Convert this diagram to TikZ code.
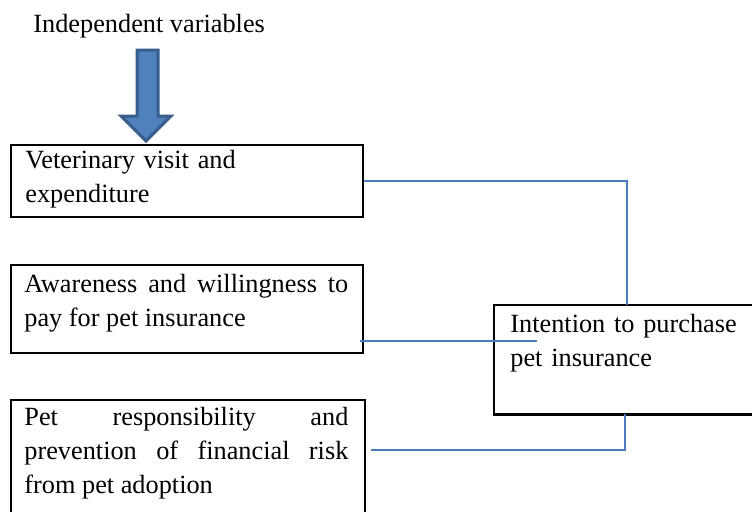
\documentclass[tikz,border=0pt]{standalone}
\usepackage{fontspec}
\setmainfont{Liberation Serif}
\usepackage{xcolor}
\usepackage{tikz}
\usetikzlibrary{positioning,calc}
\definecolor{lienbleu}{HTML}{4A7EBB}
\definecolor{flechebleu}{HTML}{4F81BD}
\definecolor{flechebord}{HTML}{385D8A}

\begin{document}
\begin{tikzpicture}[x=0.5pt,y=-0.5pt,
    font=\fontsize{13.15}{17}\selectfont,
    boite/.style={draw=black,line width=1.2pt,inner sep=0pt,anchor=north west},
    texte/.style={inner sep=0pt,anchor=north west,text width=162pt},
    lien/.style={draw=lienbleu,line width=0.9pt}]
  \useasboundingbox (0,0) rectangle (752,511);
  \clip (0,0) rectangle (752,511);
  % titre et grosse fleche
  \node[inner sep=0pt,anchor=north west] (titre) at (33,14) {Independent variables};
  \draw[fill=flechebleu,draw=flechebord,line width=1.5pt]
    (137,50) -- (158,50) -- (158,116) -- (171,116) -- (146,141) -- (121,116) -- (137,116) -- cycle;
  % les quatre cadres (le dernier est coupe a droite)
  \node[boite,minimum width=176pt,minimum height=36pt] (visite) at (10,144) {};
  \node[boite,minimum width=176pt,minimum height=44pt] (conscience) at (10,264) {};
  \node[boite,minimum width=177pt,minimum height=60.5pt] (respons) at (10,399) {};
  \node[boite,draw=none,minimum width=153pt,minimum height=53.5pt] (intention) at (494,305) {};
  \draw[line width=1.2pt] (intention.north east) -- (intention.north west)
    -- (intention.south west) -- (intention.south east);
  \node[texte,align=left] (tvisite) at ([shift={(15,6)}]visite.north west)
    {Veterinary visit and\\expenditure};
  \node[texte,align=justify] (tconscience) at ([shift={(14,10)}]conscience.north west)
    {Awareness and willingness to\linebreak pay for pet insurance};
  \node[texte,align=justify] (trespons) at ([shift={(14,8)}]respons.north west)
    {Pet responsibility and\linebreak prevention of financial risk\linebreak from pet adoption};
  \node[texte,align=left,text width=118pt] (tintention) at ([shift={(16,9)}]intention.north west)
    {Intention to purchase\\pet insurance};
  % liaisons
  \coordinate (haut) at ([shift={(133,0)}]intention.north west);
  \coordinate (bas) at ([shift={(131,0)}]intention.south west);
  \draw[lien] (visite.east) -| (haut);
  \draw[lien] ([shift={(-4,-13.5)}]conscience.south east) -- +(177,0);
  \draw[lien] (bas) |- ([shift={(5,-10.5)}]respons.east);
\end{tikzpicture}
\end{document}
